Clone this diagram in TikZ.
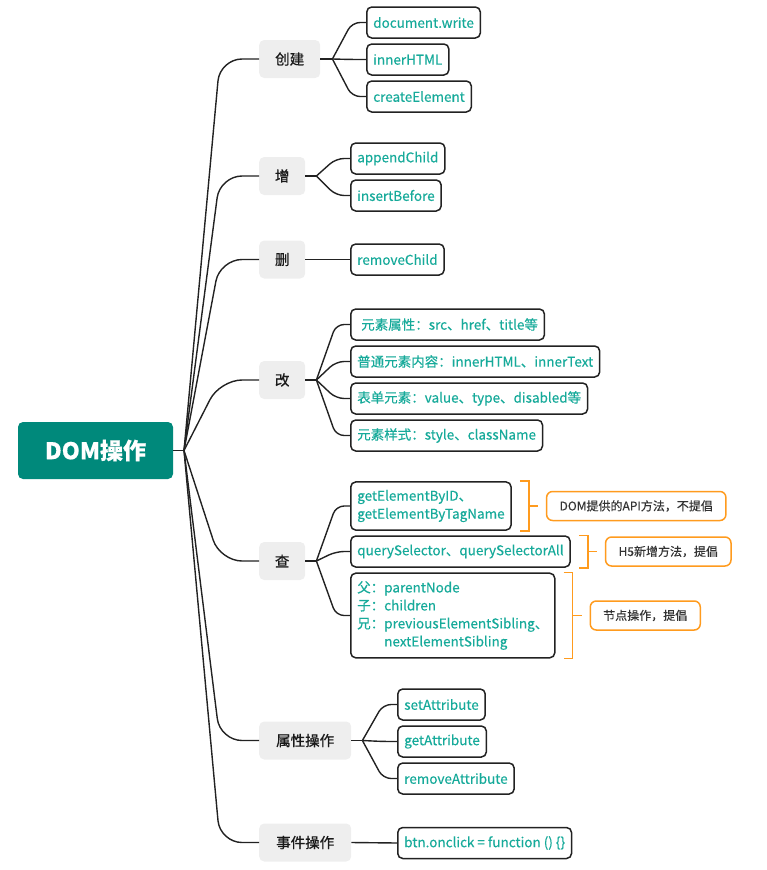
\documentclass[tikz,border=0pt]{standalone}
\usepackage{fontspec}
\setmainfont{Noto Sans CJK SC}[FakeBold=0.3]
\newfontfamily\topicfont{Noto Sans CJK SC}[FakeBold=0.8]
\usetikzlibrary{calc}
\definecolor{rootc}{RGB}{0,137,123}
\definecolor{leaftxt}{RGB}{22,170,154}
\definecolor{grayfill}{RGB}{238,238,238}
\definecolor{orangec}{RGB}{255,155,30}
\definecolor{darkline}{RGB}{34,34,34}
\begin{document}
\begin{tikzpicture}[x=1pt,y=-1pt,
 rootbox/.style={fill=rootc, rounded corners=5pt, minimum width=155pt, minimum height=57pt, text=white, font=\bfseries\fontsize{23}{28}\selectfont},
 topic/.style={fill=grayfill, rounded corners=5pt, minimum height=38pt, anchor=west, font=\topicfont\fontsize{14.5}{17}\selectfont, text=black!90, inner sep=0pt},
 leaf/.style={draw=darkline, line width=1.5pt, rounded corners=5pt, fill=white, text=leaftxt, anchor=west, minimum height=31pt, inner xsep=6.5pt, inner ysep=8pt, align=left, font=\fontsize{13.5}{18}\selectfont},
 note/.style={draw=orangec, line width=1.5pt, rounded corners=6pt, fill=white, anchor=west, minimum height=29pt, inner xsep=13pt, font=\fontsize{12}{14}\selectfont, text=black!80},
 link/.style={draw=darkline, line width=1.4pt},
 bracket/.style={draw=orangec, line width=1.5pt}
]
\useasboundingbox (0,0) rectangle (767,870);

% root
\node[rootbox] (root) at (95.5,450.5) {DOM操作};

% topics
\node[topic, minimum width=61pt] (tc) at (259,59) {创建};
\node[topic, minimum width=46pt] (ta) at (259,176) {增};
\node[topic, minimum width=46pt] (td) at (259,259.5) {删};
\node[topic, minimum width=46pt] (tm) at (259,380) {改};
\node[topic, minimum width=46pt] (tq) at (259,561) {查};
\node[topic, minimum width=92pt] (tp) at (259,740.5) {属性操作};
\node[topic, minimum width=92pt] (te) at (259,842.5) {事件操作};

% leaves
\node[leaf] (c1) at (366,22.5) {document.write};
\node[leaf] (c2) at (366,59.5) {innerHTML};
\node[leaf] (c3) at (366,96.5) {createElement};
\node[leaf] (a1) at (350,158.5) {appendChild};
\node[leaf] (a2) at (350,195.5) {insertBefore};
\node[leaf] (d1) at (350,259.5) {removeChild};
\node[leaf] (m1) at (350,324.5) {\hspace{4pt}元素属性：src、href、title等};
\node[leaf] (m2) at (350,361.5) {普通元素内容：innerHTML、innerText};
\node[leaf] (m3) at (350,398.5) {表单元素：value、type、disabled等};
\node[leaf] (m4) at (350,435.5) {元素样式：style、className};
\node[leaf] (q1) at (350,506) {getElementByID、\\getElementByTagName};
\node[leaf] (q2) at (350,551.5) {querySelector、querySelectorAll};
\node[leaf] (q3) at (350,615.5) {父：parentNode\\子：children\\兄：previousElementSibling、\\\phantom{兄：}nextElementSibling};
\node[leaf] (p1) at (397,704.5) {setAttribute};
\node[leaf] (p2) at (397,741.5) {getAttribute};
\node[leaf] (p3) at (397,778.5) {removeAttribute};
\node[leaf] (e1) at (397,843) {btn.onclick = function () \{\}};

% root connectors
\coordinate (R) at (184,450.5);
\draw[link] (root.east) -- (R);
\foreach \nm in {tc,ta,td,tm,tq,tp,te}
  \draw[link, rounded corners=22pt] (R) -- ($(\nm.west)+(-39,0)$) -- (\nm.west);

% topic connectors
\coordinate (Fc) at ($(tc.east)+(12,0)$);
\draw[link] (tc.east) -- (Fc);
\foreach \nm in {c1,c2,c3}
  \draw[link, rounded corners=8pt] (Fc) -- ($(\nm.west)+(-14,0)$) -- (\nm.west);

\coordinate (Fa) at ($(ta.east)+(11,0)$);
\draw[link] (ta.east) -- (Fa);
\foreach \nm in {a1,a2}
  \draw[link, rounded corners=8pt] (Fa) -- ($(\nm.west)+(-14,0)$) -- (\nm.west);

\draw[link] (td.east) -- (d1.west);

\coordinate (Fm) at ($(tm.east)+(11,0)$);
\draw[link] (tm.east) -- (Fm);
\foreach \nm in {m1,m2,m3,m4}
  \draw[link, rounded corners=8pt] (Fm) -- ($(\nm.west)+(-14,0)$) -- (\nm.west);

\coordinate (Fq) at ($(tq.east)+(11,0)$);
\draw[link] (tq.east) -- (Fq);
\foreach \nm in {q1,q2,q3}
  \draw[link, rounded corners=8pt] (Fq) -- ($(\nm.west)+(-14,0)$) -- (\nm.west);

\coordinate (Fp) at ($(tp.east)+(11,0)$);
\draw[link] (tp.east) -- (Fp);
\foreach \nm in {p1,p2,p3}
  \draw[link, rounded corners=8pt] (Fp) -- ($(\nm.west)+(-14,0)$) -- (\nm.west);

\draw[link] (te.east) -- (e1.west);

% brackets and notes
\foreach \nm/\tx in {q1/{DOM提供的API方法，不提倡}, q2/{H5新增方法，提倡}, q3/{节点操作，提倡}} {
  \draw[bracket] ($(\nm.north east)+(8,0)$) -- ($(\nm.north east)+(17,0)$) -- ($(\nm.south east)+(17,0)$) -- ($(\nm.south east)+(8,0)$);
  \draw[bracket] ($(\nm.east)+(17,0)$) -- ($(\nm.east)+(26,0)$) coordinate (tk\nm);
  \node[note] (n\nm) at ($(tk\nm)+(8,0)$) {\tx};
}
\end{tikzpicture}
\end{document}
